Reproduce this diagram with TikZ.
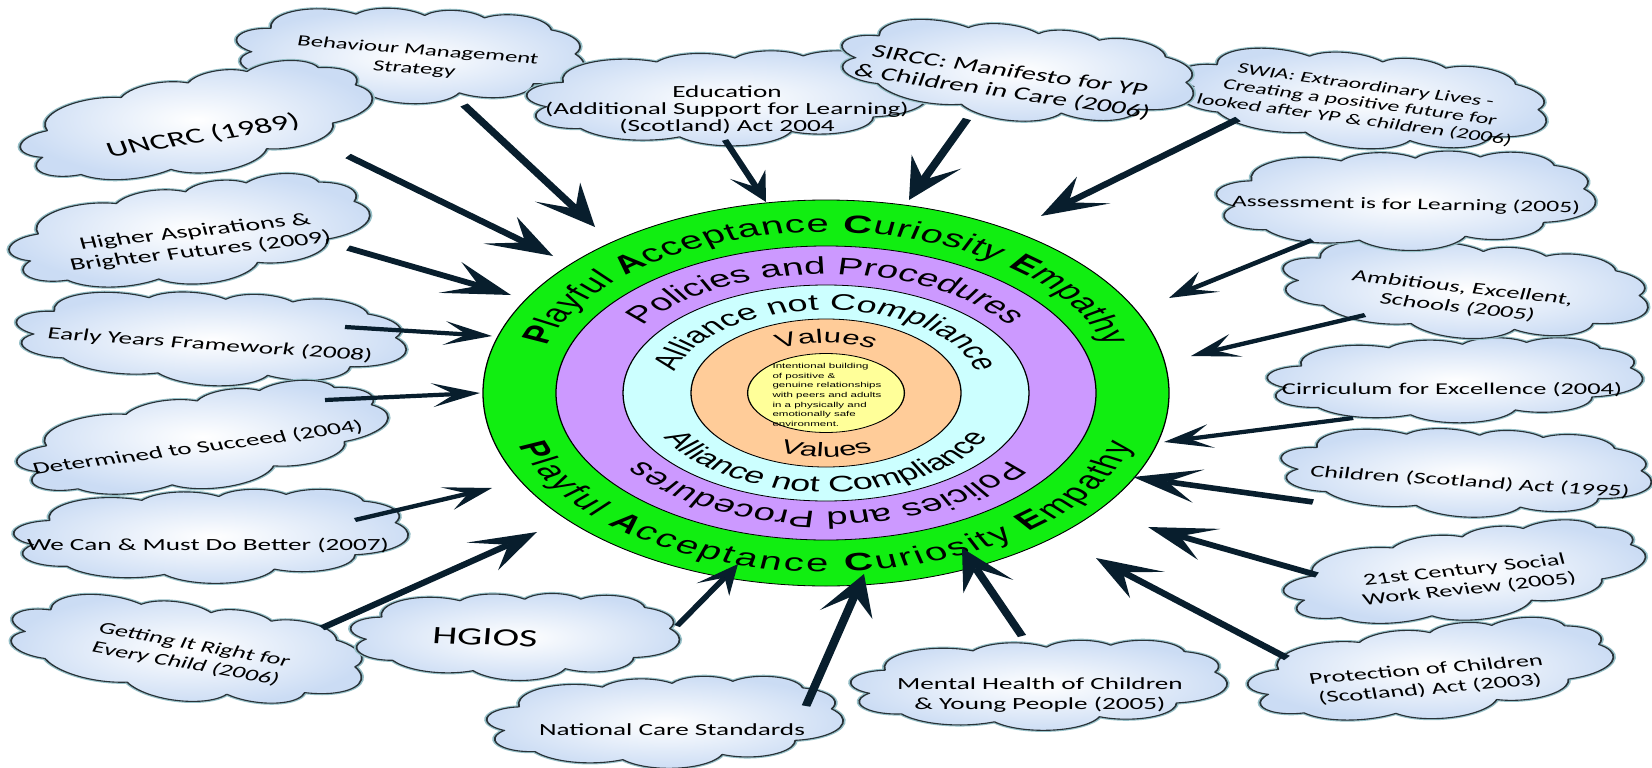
\documentclass[tikz,border=0pt]{standalone}
\usepackage{fontspec}
\setmainfont{Liberation Sans}
\newfontfamily\cfont{Carlito}
\usetikzlibrary{shapes.geometric,decorations.text,arrows.meta}
\definecolor{ringgreen}{RGB}{17,238,17}
\definecolor{ringpurple}{RGB}{204,153,255}
\definecolor{ringcyan}{RGB}{204,255,255}
\definecolor{ringorange}{RGB}{255,204,153}
\definecolor{ringyellow}{RGB}{255,255,153}
\definecolor{arrowblue}{RGB}{8,30,45}
\definecolor{cloudblue}{RGB}{203,220,244}
\definecolor{cloudedge}{RGB}{40,50,55}
\definecolor{cloudglow}{RGB}{150,192,200}
\newcommand\grn{\fontsize{25}{25}\selectfont\mdseries}
\newcommand\grb{\fontsize{25}{25}\selectfont\bfseries}
\newcommand\ppf{\fontsize{24}{24}\selectfont\mdseries}
\newcommand\cyf{\fontsize{22.5}{22.5}\selectfont\mdseries}
\newcommand\vaf{\fontsize{19.5}{19.5}\selectfont\mdseries}
\tikzset{
 cloudbody/.style={draw=cloudedge, line width=1.1pt, line join=round, shade, shading=radial,
   inner color=white, outer color=cloudblue, preaction={draw=cloudglow, line width=3.2pt, line join=round}},
 cloudtext/.style={font=\cfont\fontsize{17}{20}\selectfont, align=center, inner sep=0pt},
 ring/.style={ellipse, draw=black, line width=0.8pt, inner sep=0pt},
 arrL/.style={draw=arrowblue, line width=5.5pt, -{Stealth[length=42pt, width=34pt, inset=20pt, line width=0pt]}},
 arrS/.style={draw=arrowblue, line width=4.2pt, -{Stealth[length=30pt, width=24pt, inset=14pt, line width=0pt]}}
}
% cloud outline (office-like): centre x, centre y (screen), rotation, width, height
\newcommand\drawcloud[5]{%
 \begin{scope}[shift={(#1,-#2)}, rotate=#3, xscale=#4/100, yscale=-#5/100, shift={(-50,-50)}]
  \path[cloudbody] (9.028,33.264)
   arc[start angle=-187.745, end angle=-59.63, x radius=15.632, y radius=21.273]
   arc[start angle=-152.01, end angle=-45.445, x radius=12.345, y radius=16.822]
   arc[start angle=-153.50, end angle=-37.35, x radius=10.104, y radius=13.762]
   arc[start angle=-139.72, end angle=-10.21, x radius=11.243, y radius=15.266]
   arc[start angle=-74.77, end angle=23.21, x radius=12.345, y radius=16.836]
   arc[start angle=-37.54, end angle=81.86, x radius=15.683, y radius=21.343]
   arc[start angle=0.46, end angle=121.97, x radius=13.391, y radius=18.211]
   arc[start angle=16.84, end angle=146.22, x radius=15.630, y radius=21.331]
   arc[start angle=58.98, end angle=150.20, x radius=17.870, y radius=24.405]
   arc[start angle=83.31, end angle=223.12, x radius=10.093, y radius=13.699]
   arc[start angle=120.35, end angle=264.11, x radius=10.058, y radius=13.762] -- cycle;
 \end{scope}}
% text along an elliptic arc round the ring centre: alignment, rx, ry, start, end, text
\newcommand\ringtext[6]{%
 \path[decorate, decoration={text along path, text align={#1}, text={#6}}]
  ([shift={(#4:#2 and #3)}]ringc) arc[start angle=#4, end angle=#5, x radius=#2, y radius=#3];}
\begin{document}
\begin{tikzpicture}[x=1pt,y=1pt]
\useasboundingbox (0,0) rectangle (1652,-768);
\fill[white] (0,0) rectangle (1652,-768);
\begin{scope}[x=0.625pt, y=1pt, transform canvas={xscale=1.6}]
% ---------- rings
\coordinate (ringc) at (826,-393);
\node[ring, fill=ringgreen,  minimum width=428.75pt, minimum height=386pt] (green)  at (ringc) {};
\node[ring, fill=ringpurple, minimum width=337.5pt,  minimum height=294pt] (purple) at (ringc) {};
\node[ring, fill=ringcyan,   minimum width=253.75pt, minimum height=216pt] (cyan)   at (ringc) {};
\node[ring, fill=ringorange, minimum width=168.75pt, minimum height=148pt] (orange) at (ringc) {};
\node[ring, fill=ringyellow, minimum width=98pt, minimum height=79pt]  (yellow) at (ringc) {};
\ringtext{fit to path}{292.2}{161}{163}{17}{|\grb|P|\grn|layful |\grb|A|\grn|cceptance |\grb|C|\grn|uriosity |\grb|E|\grn|mpathy}
\ringtext{fit to path}{320.8}{179}{197}{343}{|\grb|P|\grn|layful |\grb|A|\grn|cceptance |\grb|C|\grn|uriosity |\grb|E|\grn|mpathy}
\ringtext{center}{222.7}{118.9}{180}{0}{|\ppf|Policies and Procedures}
\ringtext{center}{222.7}{118.9}{0}{-180}{|\ppf|Policies and Procedures}
\ringtext{center}{156.1}{82.95}{180}{0}{|\cyf|Alliance not Compliance}
\ringtext{center}{181.9}{99.05}{180}{360}{|\cyf|Alliance not Compliance}
\ringtext{center}{96.8}{50}{180}{0}{|\vaf|Values}
\ringtext{center}{119.2}{64}{180}{360}{|\vaf|Values}
\node[align=left, inner sep=0pt, font=\fontsize{7.2}{9.6}\selectfont] (core) at (827,-395)
 {Intentional building\\of positive \&\\genuine relationships\\with peers and adults\\in a physically and\\emotionally safe\\environment.};
% ---------- clouds
\drawcloud{410}{55}{-7}{350}{96}
\node[cloudtext, rotate=-7, font=\cfont\fontsize{15.5}{19}\selectfont] (c1) at (416,-60) {Behaviour Management\\Strategy};
\drawcloud{197}{124}{14}{361}{98}
\node[cloudtext, rotate=14, font=\cfont\fontsize{21.5}{24}\selectfont] (c2) at (203,-136) {UNCRC (1989)};
\drawcloud{190}{234}{10}{365}{100}
\node[cloudtext, rotate=10, font=\cfont\fontsize{17.5}{20}\selectfont] (c3) at (198,-242) {Higher Aspirations \&\\Brighter Futures (2009)};
\drawcloud{211}{338}{-6.5}{392}{94}
\node[cloudtext, rotate=-6.5] (c4) at (210,-345) {Early Years Framework (2008)};
\drawcloud{203}{441}{12}{378}{95}
\node[cloudtext, rotate=12] (c5) at (198,-448) {Determined to Succeed (2004)};
\drawcloud{211}{536}{0}{394}{94}
\node[cloudtext] (c6) at (208,-545) {We Can \& Must Do Better (2007)};
\drawcloud{186}{651}{-16}{362}{98}
\node[cloudtext, rotate=-16, font=\cfont\fontsize{16.5}{19.5}\selectfont] (c7) at (190,-655) {Getting It Right for\\Every Child (2006)};
\drawcloud{515}{636}{-3}{329}{88}
\node[cloudtext, rotate=-3, font=\cfont\fontsize{25}{28}\selectfont] (c8) at (485,-637) {HGIOS};
\drawcloud{665}{722}{0}{356}{92}
\node[cloudtext] (c9) at (672,-730) {National Care Standards};
\drawcloud{1039}{685}{0}{376}{90}
\node[cloudtext] (c10) at (1040,-695) {Mental Health of Children\\\& Young People (2005)};
\drawcloud{1431}{672}{7.7}{368}{93}
\node[cloudtext, rotate=7.7, font=\cfont\fontsize{16.5}{19.5}\selectfont] (c11) at (1428,-680) {Protection of Children\\(Scotland) Act (2003)};
\drawcloud{1465}{575}{9.5}{366}{90}
\node[cloudtext, rotate=9.5, font=\cfont\fontsize{16.5}{19.5}\selectfont] (c12) at (1467,-580) {21st Century Social\\Work Review (2005)};
\drawcloud{1466}{472}{-6}{372}{89}
\node[cloudtext, rotate=-6, font=\cfont\fontsize{16.5}{19.5}\selectfont] (c13) at (1470,-482) {Children (Scotland) Act (1995)};
\drawcloud{1455}{380}{0}{375}{85}
\node[cloudtext, font=\cfont\fontsize{16.5}{19.5}\selectfont] (c14) at (1452,-390) {Cirriculum for Excellence (2004)};
\drawcloud{1465}{290}{-10}{370}{95}
\node[cloudtext, rotate=-10, font=\cfont\fontsize{16.5}{19.5}\selectfont] (c15) at (1460,-298) {Ambitious, Excellent,\\Schools (2005)};
\drawcloud{1406}{200}{-1.6}{379}{100}
\node[cloudtext, rotate=-1.6, font=\cfont\fontsize{16}{19}\selectfont] (c16) at (1406,-205) {Assessment is for Learning (2005)};
\drawcloud{1362}{100}{-12}{375}{95}
\node[cloudtext, rotate=-12, font=\cfont\fontsize{15}{17.5}\selectfont] (c17) at (1360,-103) {SWIA: Extraordinary Lives -\\Creating a positive future for\\looked after YP \& children (2006)};
\drawcloud{727}{98}{0}{400}{95}
\node[cloudtext, font=\cfont\fontsize{17}{17}\selectfont] (c19) at (727,-110) {Education\\(Additional Support for Learning)\\(Scotland) Act 2004};
\drawcloud{1017}{72}{-13}{360}{96}
\node[cloudtext, rotate=-13, font=\cfont\fontsize{18.5}{21}\selectfont] (c18) at (1006,-82) {SIRCC: Manifesto for YP\\\& Children in Care (2006)};
% ---------- arrows
\coordinate (t1) at (464,-105);  \coordinate (h1) at (595,-227);
\coordinate (t2) at (348,-156);  \coordinate (h2) at (553,-256);
\coordinate (t3) at (348,-248);  \coordinate (h3) at (511,-295);
\coordinate (t4) at (345,-327);  \coordinate (h4) at (492,-336);
\coordinate (t5) at (325,-400);  \coordinate (h5) at (480,-393);
\coordinate (t6) at (355,-520);  \coordinate (h6) at (492,-488);
\coordinate (t7) at (322,-628);  \coordinate (h7) at (537,-532);
\coordinate (t8) at (677,-626);  \coordinate (h8) at (738,-564);
\coordinate (t9) at (806,-706);  \coordinate (h9) at (864,-574);
\coordinate (t10) at (1022,-636); \coordinate (h10) at (962,-548);
\coordinate (t11) at (1287,-658); \coordinate (h11) at (1096,-558);
\coordinate (t12) at (1317,-575); \coordinate (h12) at (1148,-527);
\coordinate (t13) at (1313,-502); \coordinate (h13) at (1133,-477);
\coordinate (t14) at (1353,-418); \coordinate (h14) at (1164,-442);
\coordinate (t15) at (1365,-315); \coordinate (h15) at (1191,-356);
\coordinate (t16) at (1312,-240); \coordinate (h16) at (1169,-298);
\coordinate (t17) at (1238,-119); \coordinate (h17) at (1041,-216);
\coordinate (t18) at (967,-119);  \coordinate (h18) at (909,-200);
\coordinate (t19) at (725,-140);  \coordinate (h19) at (766,-202);
\draw[arrL] (t1) -- (h1);
\draw[arrL] (t2) -- (h2);
\draw[arrL] (t3) -- (h3);
\draw[arrS] (t4) -- (h4);
\draw[arrS] (t5) -- (h5);
\draw[arrS] (t6) -- (h6);
\draw[arrL] (t7) -- (h7);
\draw[arrS] (t8) -- (h8);
\draw[arrL] (t9) -- (h9);
\draw[arrL] (t10) -- (h10);
\draw[arrL] (t11) -- (h11);
\draw[arrL] (t12) -- (h12);
\draw[arrL] (t13) -- (h13);
\draw[arrS] (t14) -- (h14);
\draw[arrS] (t15) -- (h15);
\draw[arrS] (t16) -- (h16);
\draw[arrL] (t17) -- (h17);
\draw[arrL] (t18) -- (h18);
\draw[arrS] (t19) -- (h19);
\end{scope}
\end{tikzpicture}
\end{document}
